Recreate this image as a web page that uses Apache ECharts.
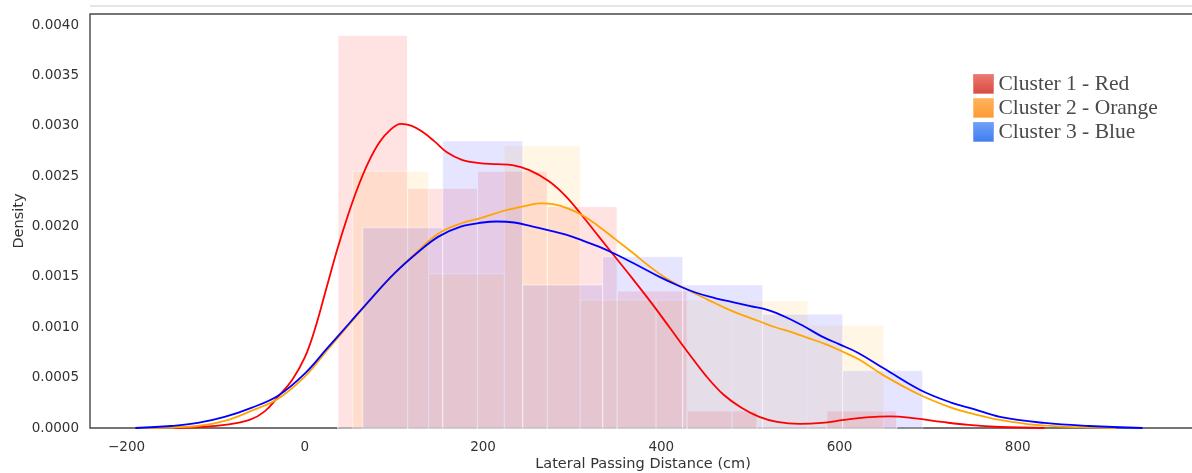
<!DOCTYPE html>
<html>
<head>
<meta charset="utf-8">
<title>Lateral Passing Distance by Cluster</title>
<script src="https://cdn.jsdelivr.net/npm/echarts@6/dist/echarts.min.js"></script>
<style>
  html, body { margin: 0; padding: 0; background: #fff; }
  #chart { width: 1192px; height: 473px; }
</style>
</head>
<body>
<div id="chart"></div>
<script>
// Histogram bins: left edge of the first bin, common bin width and density per bin
const redBinStart = 37.0;
const redBinWidth = 78.4;
const redDensity = [0.00390, 0.00238, 0.00255, 0.00220, 0.00136, 0.00017, 0.0, 0.00017];

const orangeBinStart = 53.8;
const orangeBinWidth = 85.1;
const orangeDensity = [0.00255, 0.00153, 0.00280, 0.00127, 0.00127, 0.00126, 0.00102];

const blueBinStart = 65.0;
const blueBinWidth = 89.75;
const blueDensity = [0.00199, 0.00285, 0.00142, 0.00170, 0.00142, 0.00113, 0.00057];

// Kernel density estimates: [distance, density]
const redKde = [
  [-146, 0.0], [-118, 0.00001], [-90, 0.00003], [-62, 0.00008], [-45, 0.000165],
  [-30, 0.00031], [-14, 0.00048], [0, 0.00070], [12, 0.00100], [24, 0.00138],
  [36, 0.00176], [48, 0.00210], [60, 0.00240], [72, 0.00265], [84, 0.00284],
  [96, 0.00296], [108, 0.00302], [120, 0.00300], [132, 0.00294], [145, 0.00285],
  [159, 0.00274], [177, 0.00266], [196, 0.00263], [215, 0.00262], [233, 0.00261],
  [252, 0.00256], [274, 0.00245], [293, 0.00230], [312, 0.00210], [330, 0.00190],
  [349, 0.00169], [368, 0.00148], [390, 0.00123], [410, 0.00099], [430, 0.00075],
  [450, 0.00052], [470, 0.00033], [490, 0.00020], [510, 0.00011], [530, 0.00006],
  [555, 0.00004], [580, 0.00005], [605, 0.00008], [630, 0.000105], [657, 0.000115],
  [685, 0.000095], [715, 0.00006], [745, 0.00003], [780, 0.00001], [830, 0.0]
];

const orangeKde = [
  [-185, 0.0], [-155, 0.000005], [-120, 0.00002], [-90, 0.00007], [-60, 0.00017],
  [-30, 0.00029], [0, 0.00051], [25, 0.00077], [50, 0.00103], [75, 0.00129],
  [100, 0.00153], [125, 0.00174], [150, 0.00193], [175, 0.00203], [200, 0.00209],
  [225, 0.00216], [250, 0.00221], [265, 0.00223], [280, 0.00222], [295, 0.00218],
  [312, 0.00211], [330, 0.00200], [349, 0.00187], [368, 0.00174], [386, 0.00161],
  [405, 0.00149], [430, 0.00137], [453, 0.00127], [472, 0.00119], [491, 0.00112],
  [510, 0.00106], [528, 0.00100], [547, 0.00095], [566, 0.00089], [585, 0.00083],
  [603, 0.00076], [622, 0.00068], [650, 0.00052], [690, 0.00033], [726, 0.00020],
  [750, 0.00014], [780, 0.00008], [820, 0.00003], [870, 0.000008], [910, 0.0]
];

const blueKde = [
  [-190, 0.0], [-150, 0.00002], [-120, 0.00005], [-90, 0.00011], [-60, 0.00020],
  [-30, 0.00032], [0, 0.00054], [25, 0.00079], [50, 0.00104], [75, 0.00129],
  [100, 0.00153], [125, 0.00173], [150, 0.00190], [175, 0.00200], [200, 0.00204],
  [215, 0.00205], [235, 0.00204], [256, 0.00200], [275, 0.00196], [293, 0.00192],
  [312, 0.00186], [330, 0.00180], [350, 0.00172], [370, 0.00163], [398, 0.00150],
  [420, 0.00141], [440, 0.00134], [460, 0.00129], [480, 0.00125], [500, 0.00121],
  [520, 0.00117], [540, 0.00110], [560, 0.00101], [580, 0.00091], [600, 0.00083],
  [620, 0.00075], [650, 0.00059], [690, 0.00038], [726, 0.00025], [750, 0.00019],
  [780, 0.00011], [830, 0.00005], [880, 0.00002], [940, 0.0]
];

// Tick values
const xTicks = [-200, 0, 200, 400, 600, 800];
const yTicks = [0, 0.0005, 0.001, 0.0015, 0.002, 0.0025, 0.003, 0.0035, 0.004];

const seriesNames = ['Cluster 1 - Red', 'Cluster 2 - Orange', 'Cluster 3 - Blue'];

// Turn a start/width/density description into [x0, x1, density] rows
function binsOf(start, width, dens) {
  return dens.map((d, i) => [start + i * width, start + (i + 1) * width, d]);
}

function histRenderer(fill, edge) {
  return function (params, api) {
    const top = api.coord([api.value(0), api.value(2)]);
    const base = api.coord([api.value(1), 0]);
    return {
      type: 'rect',
      shape: { x: top[0], y: top[1], width: base[0] - top[0], height: base[1] - top[1] },
      style: { fill: fill, stroke: edge, lineWidth: 1.2 }
    };
  };
}

function histSeries(name, bins, fill, edge) {
  return {
    name: name,
    type: 'custom',
    silent: true,
    renderItem: histRenderer(fill, edge),
    encode: { x: [0, 1], y: 2 },
    data: bins,
    z: 1
  };
}

function kdeSeries(name, pts, color) {
  return {
    name: name,
    type: 'line',
    data: pts,
    showSymbol: false,
    smooth: 0.4,
    silent: true,
    lineStyle: { color: color, width: 1.8 },
    itemStyle: { color: color },
    z: 5
  };
}

function grad(top, bottom) {
  return new echarts.graphic.LinearGradient(0, 0, 0, 1, [
    { offset: 0, color: top }, { offset: 1, color: bottom }
  ]);
}

const fmtX = v => (v < 0 ? '\u2212' + Math.abs(v) : String(v));

const chart = echarts.init(document.getElementById('chart'), null, { renderer: 'canvas' });

chart.setOption({
  animation: false,
  backgroundColor: '#ffffff',
  grid: {
    left: 90, top: 14, bottom: 45, width: 1106,
    outerBoundsMode: 'none',
    containLabel: false,
    show: true, borderColor: '#484848', borderWidth: 1.4, backgroundColor: 'transparent'
  },
  graphic: [{
    type: 'line',
    shape: { x1: 90, y1: 6, x2: 1192, y2: 6 },
    style: { stroke: '#dcdcdc', lineWidth: 1.5 },
    silent: true
  }],
  legend: {
    orient: 'vertical',
    left: 973, top: 73,
    padding: 0,
    icon: 'rect',
    itemWidth: 20, itemHeight: 19, itemGap: 2,
    selectedMode: false,
    textStyle: { fontFamily: 'Liberation Serif', fontSize: 21.5, color: '#4a4a4a', lineHeight: 19 },
    data: [
      { name: seriesNames[0], itemStyle: { color: grad('#ec7a70', '#d84a40'), borderColor: '#e88880', borderWidth: 1 } },
      { name: seriesNames[1], itemStyle: { color: grad('#ffb35c', '#ff9a35'), borderColor: '#ffc07a', borderWidth: 1 } },
      { name: seriesNames[2], itemStyle: { color: grad('#6fa2f6', '#3f7df0'), borderColor: '#80a8f0', borderWidth: 1 } }
    ]
  },
  xAxis: {
    type: 'value',
    min: -241, max: 1000,
    name: 'Lateral Passing Distance (cm)',
    nameLocation: 'middle',
    nameGap: 29,
    nameMoveOverlap: false,
    nameTextStyle: { fontFamily: 'DejaVu Sans', fontSize: 14.5, color: '#333' },
    axisLine: { show: false },
    axisTick: { show: false },
    splitLine: { show: false },
    axisLabel: {
      customValues: xTicks,
      formatter: fmtX,
      margin: 12.5,
      fontFamily: 'DejaVu Sans', fontSize: 13.5, color: '#333'
    }
  },
  yAxis: {
    type: 'value',
    min: 0, max: 0.00411,
    name: 'Density',
    nameLocation: 'middle',
    nameGap: 63,
    nameRotate: 90,
    nameMoveOverlap: false,
    nameTextStyle: { fontFamily: 'DejaVu Sans', fontSize: 14.5, color: '#333' },
    axisLine: { show: false },
    axisTick: { show: false },
    splitLine: { show: false },
    axisLabel: {
      customValues: yTicks,
      formatter: v => v.toFixed(4),
      margin: 11,
      fontFamily: 'DejaVu Sans', fontSize: 13.5, color: '#333'
    }
  },
  series: [
    histSeries(seriesNames[0], binsOf(redBinStart, redBinWidth, redDensity), 'rgba(255,0,0,0.115)', 'rgba(255,255,255,0.95)'),
    histSeries(seriesNames[1], binsOf(orangeBinStart, orangeBinWidth, orangeDensity), 'rgba(255,165,0,0.10)', 'rgba(255,255,255,0.45)'),
    histSeries(seriesNames[2], binsOf(blueBinStart, blueBinWidth, blueDensity), 'rgba(0,0,255,0.10)', 'rgba(255,255,255,0.45)'),
    kdeSeries(seriesNames[0], redKde, '#ff0000'),
    kdeSeries(seriesNames[1], orangeKde, '#ffa500'),
    kdeSeries(seriesNames[2], blueKde, '#0000ff')
  ]
});
</script>
</body>
</html>
